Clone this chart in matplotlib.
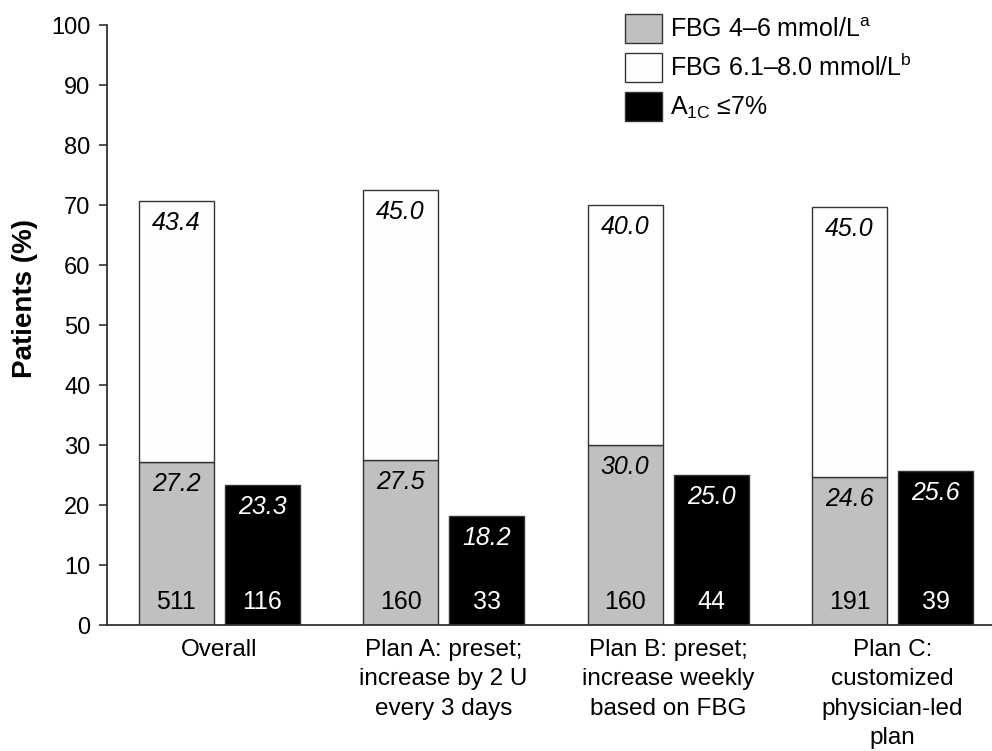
import numpy as np
import matplotlib
matplotlib.use('Agg')
import matplotlib.pyplot as plt

plt.rcParams['font.family'] = ['Liberation Sans', 'DejaVu Sans']
plt.rcParams['mathtext.fontset'] = 'custom'
plt.rcParams['mathtext.rm'] = 'Liberation Sans'
plt.rcParams['mathtext.it'] = 'Liberation Sans:italic'

# data
groups = ['Overall',
          'Plan A: preset;\nincrease by 2 U\nevery 3 days',
          'Plan B: preset;\nincrease weekly\nbased on FBG',
          'Plan C:\ncustomized\nphysician-led\nplan']
fbg_4_6 = [27.2, 27.5, 30.0, 24.6]
fbg_61_80 = [43.4, 45.0, 40.0, 45.0]
a1c_7 = [23.3, 18.2, 25.0, 25.6]
n_fbg = [511, 160, 160, 191]
n_a1c = [116, 33, 44, 39]

x = np.arange(len(groups))
w = 0.334
off = 0.192

fig = plt.figure(figsize=(9.92, 7.51), dpi=100)
ax = fig.add_axes([107/992, 1 - 625/751, 885/992, 600/751])

edge = '#333333'
b1 = ax.bar(x - off, fbg_4_6, w, color='#c0c0c0', edgecolor=edge, linewidth=1,
            label='FBG 4–6 mmol/L$^{\\mathrm{a}}$')
b2 = ax.bar(x - off, fbg_61_80, w, bottom=fbg_4_6, color='#fefefe', edgecolor=edge,
            linewidth=1, label='FBG 6.1–8.0 mmol/L$^{\\mathrm{b}}$')
b3 = ax.bar(x + off, a1c_7, w, color='black', edgecolor=edge, linewidth=1,
            label='A$_{\\mathrm{1C}}$ ≤7%')

fs = 18
for i in range(len(groups)):
    top = fbg_4_6[i] + fbg_61_80[i]
    ax.text(x[i] - off, top - 4.8, '%.1f' % fbg_61_80[i], ha='center', va='baseline',
            fontsize=fs, style='italic')
    ax.text(x[i] - off, fbg_4_6[i] - 4.8, '%.1f' % fbg_4_6[i], ha='center', va='baseline',
            fontsize=fs, style='italic')
    ax.text(x[i] + off, a1c_7[i] - 4.8, '%.1f' % a1c_7[i], ha='center', va='baseline',
            fontsize=fs, style='italic', color='white')
    ax.text(x[i] - off, 2.6, str(n_fbg[i]), ha='center', va='baseline', fontsize=fs)
    ax.text(x[i] + off, 2.6, str(n_a1c[i]), ha='center', va='baseline', fontsize=fs,
            color='white')

ax.set_xlim(-0.5, 3.443)
ax.set_ylim(0, 100)
ax.set_yticks(np.arange(0, 101, 10))
ax.set_xticks(x)
ax.set_xticklabels(groups, fontsize=17.5, linespacing=1.43)
ax.tick_params(axis='x', length=0, pad=10)
ax.tick_params(axis='y', length=6, width=1.2, pad=6, labelsize=17, color=edge)

for s in ['top', 'right']:
    ax.spines[s].set_visible(False)
for s in ['left', 'bottom']:
    ax.spines[s].set_color(edge)
    ax.spines[s].set_linewidth(1.3)

ax.set_ylabel('Patients (%)', fontsize=20, fontweight='bold')
ax.yaxis.set_label_coords(-0.078, 0.545)

fig.legend(handles=[b1, b2, b3], loc='upper left',
           bbox_to_anchor=(625/992, 1 - 14/751), frameon=False, fontsize=fs,
           borderpad=0, borderaxespad=0, handlelength=1.48, handleheight=1.4,
           handletextpad=0.32, labelspacing=0.4)

plt.savefig('out.png', dpi=100)
print('out.png saved')
